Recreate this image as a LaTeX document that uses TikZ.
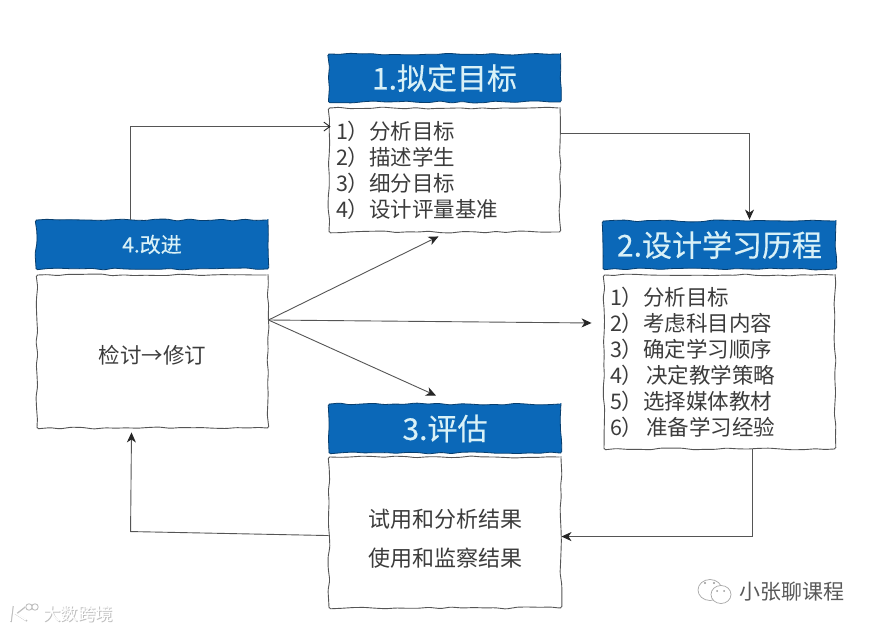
\documentclass[tikz,border=0pt]{standalone}
\usepackage{fontspec}
\setmainfont{Noto Sans CJK SC}
\newfontfamily\hfont[FakeBold=0.35]{Noto Sans CJK SC}
\usetikzlibrary{arrows.meta,decorations.pathmorphing}
\definecolor{hdr}{HTML}{0B68B8}
\definecolor{hdrtxt}{HTML}{D9F1F7}
\definecolor{bodytxt}{HTML}{3C3C3C}
\definecolor{edge}{HTML}{555555}
% fixed box: #1 width, #2 height, #3 top offset, #4 content
\newcommand{\boxtext}[4]{\parbox[c][#2][t]{#1}{\lineskiplimit=-60pt\parindent=0pt\vspace*{#3}#4}}
\tikzset{
  x=1pt,y=-1pt,
  wavy/.style={rounded corners=1.5pt,decorate,decoration={random steps,segment length=11pt,amplitude=1pt}},
  header/.style={draw=hdr!60!black,fill=hdr,wavy,line width=.8pt,text=hdrtxt,inner sep=0pt,
    font=\hfont\fontsize{30}{34}\selectfont},
  bodybox/.style={draw=edge,fill=white,wavy,line width=.9pt,text=bodytxt,inner sep=0pt},
  conn/.style={draw=edge,line width=.9pt,-{Stealth[length=10pt,width=9pt,inset=3pt,color=black!85]}},
  connopen/.style={draw=edge,line width=.9pt,-{Straight Barb[length=6pt,width=9pt,color=black!85]}},
  wm/.style={inner sep=0pt,font=\fontsize{17.5}{22}\selectfont}
}
\begin{document}
\begin{tikzpicture}
\useasboundingbox (0,0) rectangle (871,631);
\fill[white] (0,0) rectangle (871,631);
\pgfmathsetseed{7}
% headers
\node[header,minimum width=232pt,minimum height=48pt] (h1) at (444.5,78) {1.拟定目标};
\node[header,minimum width=233pt,minimum height=48pt] (h2) at (719.5,245) {2.设计学习历程};
\node[header,minimum width=232pt,minimum height=49pt] (h3) at (445,428.5) {3.评估};
\node[header,minimum width=232pt,minimum height=49pt,font=\hfont\fontsize{21}{24}\selectfont] (h4) at (152,244.5) {4.改进};
% bodies
\node[bodybox] (b1) at (444.5,170)
  {\boxtext{231pt}{124pt}{13pt}{\fontsize{21.5}{26}\selectfont\leftskip=7pt
   1）分析目标\\2）描述学生\\3）细分目标\\4）设计评量基准}};
\node[bodybox] (b2) at (719.5,362)
  {\boxtext{231pt}{174pt}{12pt}{\fontsize{21.5}{26}\selectfont\leftskip=6pt
   1）分析目标\\2）考虑科目内容\\3）确定学习顺序\\4）\kern3pt 决定教学策略\\5）选择媒体教材\\6）\kern3pt 准备学习经验}};
\node[bodybox] (b3) at (445,532.5)
  {\boxtext{232pt}{151pt}{52pt}{\fontsize{22}{39}\selectfont\centering
   试用和分析结果\\使用和监察结果}};
\node[bodybox] (b4) at (152.5,351.5)
  {\boxtext{231pt}{153pt}{70pt}{\fontsize{21.5}{26}\selectfont\centering 检讨→修订}};
% connectors
\draw[connopen] ([xshift=-22pt]h4.north) |- ([xshift=2pt,yshift=-19pt]b1.north west);
\draw[conn] ([yshift=-26pt]b1.north east) -| ([xshift=30pt,yshift=1pt]h2.north);
\draw[conn] ([xshift=33pt]b2.south) |- ([yshift=-80pt]b3.north east);
\draw[conn] ([yshift=-79pt]b3.north west) -- ++(-198,-4) -- ([xshift=-21pt,yshift=-4pt]b4.south);
\draw[conn] ([yshift=31.5pt]b4.east) -- ([xshift=-6pt,yshift=-4pt]b1.south);
\draw[conn] ([yshift=31.5pt]b4.east) -- ([xshift=-12pt,yshift=39pt]b2.west);
\draw[conn] ([yshift=31.5pt]b4.east) -- ([xshift=-9pt,yshift=8pt]h3.north);
% watermarks
\node[wm,text=black!25,anchor=west] (wl0) at (44,614.5) {大数跨境};
\node[wm,text=white,anchor=west] (wl) at (43,613.5) {大数跨境};
\begin{scope}[line width=1.6pt]
\draw[black!25] (13,606) -- (11,622) (25,607) -- (16,614) -- (27,621);
\draw[white] (12,605) -- (10,621) (24,606) -- (15,613) -- (26,620);
\draw[black!25,line width=.9pt] (29,607) circle (3.2) (35,607) circle (3.2);
\end{scope}
\node[wm,text=white,anchor=west,font=\fontsize{21}{24}\selectfont] (wr0) at (740,592.5) {小张聊课程};
\node[wm,text=black!65,anchor=west,font=\fontsize{21}{24}\selectfont] (wr) at (739,592) {小张聊课程};
\draw[black!35,line width=.7pt] (710,590) ellipse [x radius=12,y radius=10.5];
\draw[black!35,fill=white,line width=.7pt] (721,594.5) ellipse [x radius=10,y radius=9];
\fill[black!40] (705,583) circle (1.2) (714,583) circle (1.2) (717,591) circle (1) (724,591) circle (1);
\end{tikzpicture}
\end{document}
